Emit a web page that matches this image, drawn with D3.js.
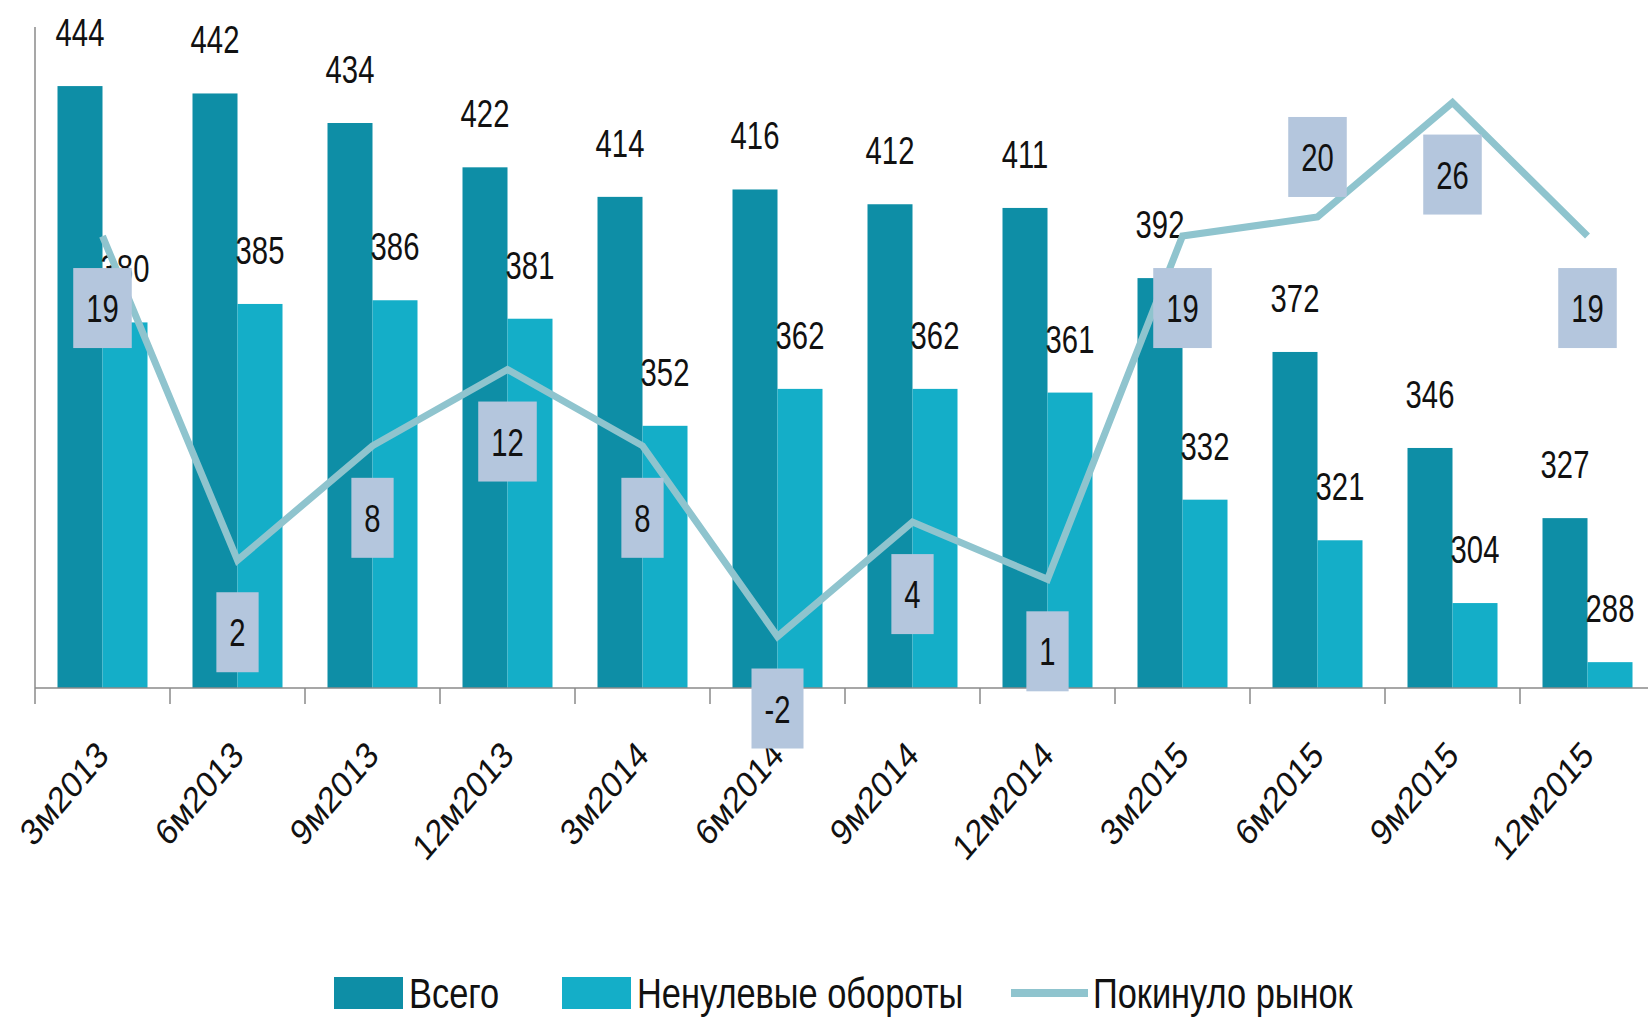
<!DOCTYPE html>
<html>
<head>
<meta charset="utf-8">
<script src="https://cdn.jsdelivr.net/npm/d3@7"></script>
<style>
    body { margin: 0; background: #fff; }
    svg text { font-family: "Liberation Sans", Arial, sans-serif; fill: #111; }
</style>
</head>
<body>
<div id="chart"></div>
<script>
// Dati del grafico
const categories = ["3м2013", "6м2013", "9м2013", "12м2013", "3м2014", "6м2014", "9м2014", "12м2014", "3м2015", "6м2015", "9м2015", "12м2015"];
const totalValues = [444, 442, 434, 422, 414, 416, 412, 411, 392, 372, 346, 327];
const nonZeroValues = [380, 385, 386, 381, 352, 362, 362, 361, 332, 321, 304, 288];
const leftMarket = [19, 2, 8, 12, 8, -2, 4, 1, 19, 20, 26, 19];
const leftMarketLabelSide = ["below", "below", "below", "below", "below", "below", "below", "below", "below", "above", "below", "below"];
const seriesNames = ["Всего", "Ненулевые обороты", "Покинуло рынок"];

const colors = { total: "#0e8ea6", nonZero: "#14aec8", line: "#8fc4ce", box: "#b4c6dd", axis: "#8a8a8a" };
const squeeze = 0.75;

const width = 1648, height = 1025;
const plot = { left: 35, top: 27, bottom: 688, step: 135 };

const svg = d3.select("#chart")
    .append("svg")
    .attr("width", width)
    .attr("height", height);

// Scale
const x0 = d3.scaleBand()
    .domain(categories)
    .range([plot.left, plot.left + categories.length * plot.step]);

const x1 = d3.scaleBand()
    .domain([0, 1])
    .range([0, x0.bandwidth()])
    .paddingOuter(0.5);

const y = d3.scaleLinear()
    .domain([281, 460])
    .range([plot.bottom, plot.top]);

const y2 = d3.scaleLinear()
    .domain([-4.7, 29.7])
    .range([plot.bottom, 32]);

// Barre
const bars = [
    { values: totalValues, color: colors.total, idx: 0 },
    { values: nonZeroValues, color: colors.nonZero, idx: 1 }
];

bars.forEach(s => {
    svg.append("g")
        .selectAll("rect")
        .data(s.values)
        .join("rect")
        .attr("x", (d, i) => x0(categories[i]) + x1(s.idx))
        .attr("y", d => y(d))
        .attr("width", x1.bandwidth())
        .attr("height", d => y(281) - y(d))
        .attr("fill", s.color);
});

// Assi
svg.append("line")
    .attr("x1", plot.left).attr("x2", plot.left)
    .attr("y1", plot.top).attr("y2", plot.bottom + 16)
    .attr("stroke", colors.axis).attr("stroke-width", 1.5);

const xAxis = svg.append("g")
    .attr("transform", `translate(0,${plot.bottom})`)
    .call(d3.axisBottom(x0).tickSize(0).tickFormat(""));
xAxis.select(".domain").attr("stroke", colors.axis).attr("stroke-width", 1.5)
    .attr("d", `M${plot.left},0H${width}`);

svg.append("g")
    .selectAll("line")
    .data(categories.slice(1))
    .join("line")
    .attr("x1", d => x0(d)).attr("x2", d => x0(d))
    .attr("y1", plot.bottom).attr("y2", plot.bottom + 16)
    .attr("stroke", colors.axis).attr("stroke-width", 1.5);

// Etichette asse x
svg.append("g")
    .selectAll("text")
    .data(categories)
    .join("text")
    .attr("transform", d => `translate(${x0(d) + x0.bandwidth() / 2},${plot.bottom + 60}) scale(0.85,1) rotate(-45)`)
    .attr("text-anchor", "end")
    .attr("dy", "0.35em")
    .style("font-size", "37px")
    .text(d => d);

// Etichette barre
bars.forEach(s => {
    svg.append("g")
        .selectAll("text")
        .data(s.values)
        .join("text")
        .attr("transform", (d, i) => `translate(${x0(categories[i]) + x1(s.idx) + x1.bandwidth() / 2},${y(d) - 40}) scale(${squeeze},1)`)
        .attr("text-anchor", "middle")
        .style("font-size", "39px")
        .text(d => d);
});

// Linea
const line = d3.line()
    .x((d, i) => x0(categories[i]) + x0.bandwidth() / 2)
    .y(d => y2(d));

svg.append("path")
    .datum(leftMarket)
    .attr("d", line)
    .attr("fill", "none")
    .attr("stroke", colors.line)
    .attr("stroke-width", 7)
    .attr("stroke-linejoin", "miter");

// Etichette linea con riquadro
const labels = svg.append("g")
    .selectAll("g")
    .data(leftMarket)
    .join("g")
    .attr("transform", (d, i) => {
        const cx = x0(categories[i]) + x0.bandwidth() / 2;
        const cy = y2(d) + (leftMarketLabelSide[i] === "above" ? -60 : 72);
        return `translate(${cx},${cy})`;
    });

labels.each(function (d) {
    const g = d3.select(this);
    const t = g.append("text")
        .attr("text-anchor", "middle")
        .attr("dy", "0.36em")
        .attr("transform", `scale(${squeeze},1)`)
        .style("font-size", "39px")
        .text(d);
    const w = t.node().getBBox().width * squeeze + 26;
    g.insert("rect", "text")
        .attr("x", -w / 2)
        .attr("y", -40)
        .attr("width", w)
        .attr("height", 80)
        .attr("fill", colors.box);
});

// Legenda
const legendX = [334, 562, 1011];
const legend = svg.append("g")
    .selectAll("g")
    .data(seriesNames)
    .join("g")
    .attr("transform", (d, i) => `translate(${legendX[i]},993)`);

legend.each(function (d, i) {
    const g = d3.select(this);
    if (i < 2) {
        g.append("rect")
            .attr("x", 0).attr("y", -16)
            .attr("width", 69).attr("height", 32)
            .attr("fill", i === 0 ? colors.total : colors.nonZero);
    } else {
        g.append("line")
            .attr("x1", 0).attr("x2", 77)
            .attr("stroke", colors.line)
            .attr("stroke-width", 8);
    }
    g.append("text")
        .attr("transform", `translate(${i < 2 ? 75 : 82},0) scale(0.8,1)`)
        .attr("dy", "0.36em")
        .style("font-size", "43px")
        .text(d);
});
</script>
</body>
</html>
